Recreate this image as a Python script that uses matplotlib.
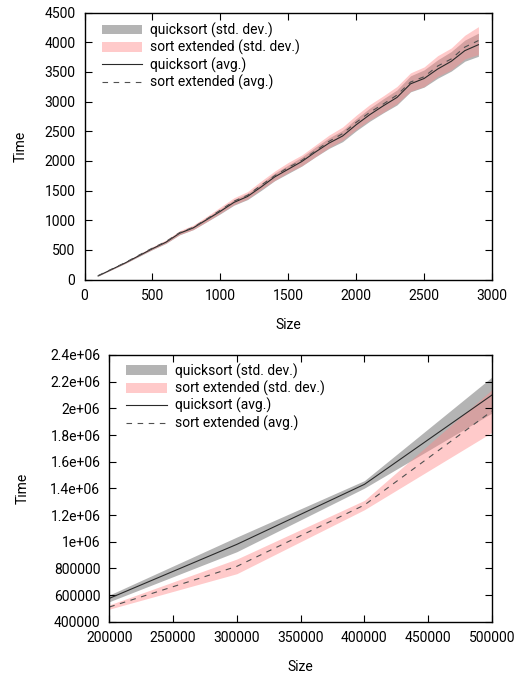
import matplotlib
matplotlib.use("Agg")
import matplotlib.pyplot as plt

plt.rcParams['font.family'] = ['Roboto', 'DejaVu Sans']
plt.rcParams['font.size'] = 10

# small sizes
sizes = [100, 200, 300, 400, 500, 600, 700, 800, 900, 1000, 1100, 1200, 1300, 1400, 1500,
         1600, 1700, 1800, 1900, 2000, 2100, 2200, 2300, 2400, 2500, 2600, 2700, 2800, 2900]
qs_avg = [60, 170, 280, 400, 520, 630, 780, 870, 1010, 1150, 1300, 1400, 1560, 1730, 1860,
          1990, 2150, 2300, 2420, 2610, 2780, 2930, 3070, 3300, 3390, 3550, 3680, 3860, 3960]
qs_std = [3, 6, 9, 13, 17, 21, 26, 30, 36, 42, 47, 52, 58, 64, 70,
          76, 82, 88, 95, 102, 110, 118, 126, 135, 145, 155, 165, 178, 195]
se_avg = [65, 175, 285, 410, 530, 640, 790, 880, 1020, 1170, 1320, 1420, 1590, 1750, 1890,
          2010, 2170, 2330, 2460, 2650, 2820, 2960, 3110, 3330, 3420, 3600, 3720, 3920, 4030]
se_std = [4, 8, 12, 16, 22, 27, 33, 38, 45, 52, 58, 63, 70, 78, 85,
          90, 98, 105, 112, 120, 130, 138, 145, 155, 165, 175, 185, 200, 235]

# large sizes
big_sizes = [200000, 300000, 400000, 500000]
big_qs_avg = [575000, 980000, 1430000, 2100000]
big_qs_std = [25000, 55000, 28000, 135000]
big_se_avg = [510000, 815000, 1275000, 1980000]
big_se_std = [16000, 55000, 35000, 160000]

top_yticks = [0, 500, 1000, 1500, 2000, 2500, 3000, 3500, 4000, 4500]
top_xticks = [0, 500, 1000, 1500, 2000, 2500, 3000]
bot_xticks = [200000, 250000, 300000, 350000, 400000, 450000, 500000]
bot_yticks = [400000, 600000, 800000, 1000000, 1200000, 1400000, 1600000, 1800000,
              2000000, 2200000, 2400000]
bot_ylabels = ['400000', '600000', '800000', '1e+06', '1.2e+06', '1.4e+06', '1.6e+06',
               '1.8e+06', '2e+06', '2.2e+06', '2.4e+06']


def draw(ax, x, qa, qsd, sa, ssd, ypad):
    ax.fill_between(x, [a - s for a, s in zip(qa, qsd)], [a + s for a, s in zip(qa, qsd)],
                    color='#8c8c8c', alpha=0.65, lw=0, label='quicksort (std. dev.)')
    ax.fill_between(x, [a - s for a, s in zip(sa, ssd)], [a + s for a, s in zip(sa, ssd)],
                    color='#ff8a8a', alpha=0.45, lw=0, label='sort extended (std. dev.)')
    ax.plot(x, qa, color='#2a2a2a', lw=0.8, label='quicksort (avg.)')
    ax.plot(x, sa, color='#505050', lw=0.8, dashes=(5, 5), label='sort extended (avg.)')
    ax.tick_params(direction='in', top=True, right=True, length=5, width=0.8, pad=6.5)
    for sp in ax.spines.values():
        sp.set_linewidth(1.0)
    ax.set_xlabel('Size', labelpad=11)
    ax.set_ylabel('Time', labelpad=ypad)


fig = plt.figure(figsize=(5.23, 6.75), dpi=100)

ax1 = fig.add_axes([84.5 / 523, 1 - 279.5 / 675, (492 - 84.5) / 523, (279.5 - 12.7) / 675])
draw(ax1, sizes, qs_avg, qs_std, se_avg, se_std, 12)
ax1.set_xlim(0, 3000)
ax1.set_ylim(0, 4500)
ax1.set_xticks(top_xticks)
ax1.set_yticks(top_yticks)
ax1.legend(loc='upper left', frameon=False, handlelength=2.9, handleheight=0.7,
           labelspacing=0.15, borderaxespad=0.3, handletextpad=0.6,
           bbox_to_anchor=(0.018, 1.0))

ax2 = fig.add_axes([109.3 / 523, 1 - 621.7 / 675, (492 - 109.3) / 523, (621.7 - 355) / 675])
draw(ax2, big_sizes, big_qs_avg, big_qs_std, big_se_avg, big_se_std, 15)
ax2.set_xlim(200000, 500000)
ax2.set_ylim(400000, 2400000)
ax2.set_xticks(bot_xticks)
ax2.set_xticklabels([str(v) for v in bot_xticks])
ax2.set_yticks(bot_yticks)
ax2.set_yticklabels(bot_ylabels)
ax2.legend(loc='upper left', frameon=False, handlelength=2.9, handleheight=0.7,
           labelspacing=0.15, borderaxespad=0.0, handletextpad=0.6,
           bbox_to_anchor=(0.03, 0.99))

fig.savefig('out.png', dpi=100)
